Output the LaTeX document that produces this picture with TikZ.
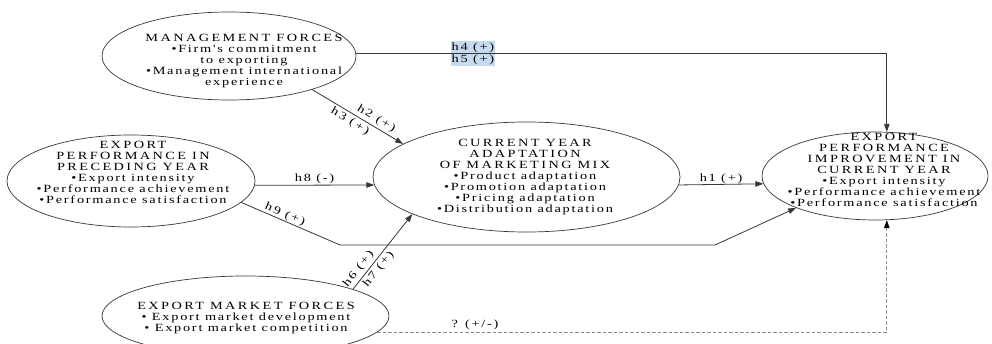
\documentclass[tikz,border=0pt]{standalone}
\usepackage{fontspec}
\setmainfont{Liberation Serif}
\newfontfamily\bodyfont{Liberation Serif}[FakeStretch=1.3, LetterSpace=16]
\newfontfamily\capsfont{Liberation Serif}[FakeStretch=1.3, LetterSpace=22]
\newcommand\hd[1]{{\capsfont #1}}
\usetikzlibrary{shapes.geometric,arrows.meta}
\definecolor{hilite}{RGB}{198,218,240}
\definecolor{inkline}{RGB}{55,55,55}
\definecolor{dashgray}{RGB}{140,140,140}

\tikzset{
  blob/.style={ellipse, draw=inkline, line width=0.7pt, inner sep=0pt},
  txt/.style={align=center, inner sep=0pt, font=\bodyfont\fontsize{11}{11}\selectfont},
  link/.style={draw=inkline, line width=0.8pt, -{Triangle[length=8pt,width=5.5pt]}},
  dashlink/.style={draw=dashgray, line width=0.9pt, dash pattern=on 3.5pt off 2pt,
                   -{Triangle[length=8pt,width=5.5pt,color=black]}},
  lbl/.style={inner sep=1pt, font=\bodyfont\fontsize{11}{11}\selectfont},
}

\begin{document}
\begin{tikzpicture}[x=1pt, y=-1pt]
\clip (0,0) rectangle (992,344);
\fill[white] (0,0) rectangle (992,344);

% construct ellipses
\node[blob, minimum width=254pt, minimum height=88pt]  (mf)  at (229,56)    {};
\node[blob, minimum width=248pt, minimum height=92pt]  (pre) at (131,181)   {};
\node[blob, minimum width=307pt, minimum height=110pt] (cur) at (526.5,177) {};
\node[blob, minimum width=226pt, minimum height=88pt]  (epi) at (875,176)   {};
\node[blob, minimum width=287pt, minimum height=80pt]  (emf) at (245.5,316) {};

% construct contents
\node[txt] (mftxt) at (244,61) {\hd{MANAGEMENT FORCES}\\•Firm's commitment\\to exporting\\•Management international\\experience};
\node[txt] (pretxt) at (133,172.5) {\hd{EXPORT}\\\hd{PERFORMANCE IN}\\\hd{PRECEDING YEAR}\\•Export intensity\\•Performance achievement\\•Performance satisfaction};
\node[txt] (curtxt) at (525,177.5) {\hd{CURRENT YEAR}\\\hd{ADAPTATION}\\\hd{OF MARKETING MIX}\\•Product adaptation\\•Promotion adaptation\\•Pricing adaptation\\•Distribution adaptation};
\node[txt] (epitxt) at (884,170) {\hd{EXPORT}\\\hd{PERFORMANCE}\\\hd{IMPROVEMENT IN}\\\hd{CURRENT YEAR}\\•Export intensity\\•Performance achievement\\•Performance satisfaction};
\node[txt] (emftxt) at (246,318) {\hd{EXPORT MARKET FORCES}\\• Export market development\\• Export market competition};

% hypothesised paths
\draw[link] (mf.1.4) -| (epi.75)
  node[lbl, pos=0.11, above, fill=hilite] {h4 (+)}
  node[lbl, pos=0.11, below, fill=hilite] {h5 (+)};

\draw[link] (mf.-22) -- (cur.165)
  node[lbl, pos=0.66, sloped, above, inner sep=2.5pt] {h2 (+)}
  node[lbl, pos=0.46, sloped, below, inner sep=2.5pt] {h3 (+)};

\draw[link] (pre.-2) -- (cur.183) node[lbl, midway, above, inner sep=0.5pt] {h8 (-)};

\draw[link] (cur.-3) -- (epi.184.6) node[lbl, midway, above, inner sep=0.5pt] {h1 (+)};

\coordinate (b1) at (340,245);
\coordinate (b2) at (715,245);
\draw[link] (pre.-11) -- node[lbl, pos=0.42, sloped, above, inner sep=0.5pt] {h9 (+)} (b1) -- (b2) -- (epi.202);

\draw[link] (emf.14) -- (cur.198)
  node[lbl, pos=0.2, sloped, above, inner sep=2.5pt] {h6 (+)}
  node[lbl, pos=0.33, sloped, below, inner sep=2.5pt] {h7 (+)};

\draw[dashlink] (emf.-7.5) -| (epi.-75)
  node[lbl, pos=0.096, above, inner sep=1.5pt, text=black] {? (+/-)};
\end{tikzpicture}
\end{document}
